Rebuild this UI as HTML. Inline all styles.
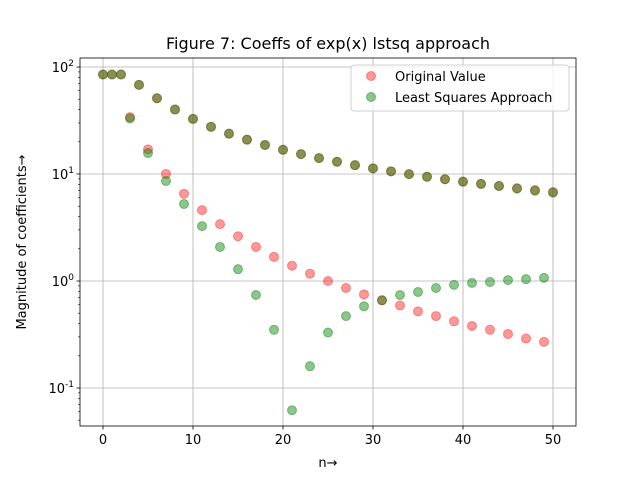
<!DOCTYPE html>
<html><head><meta charset="utf-8"><style>
body{margin:0;background:#fff;}
svg{display:block;font-family:"DejaVu Sans","Liberation Sans",sans-serif;}
</style></head><body>
<svg id="chart" width="640" height="480">
<rect width="640" height="480" fill="#fff"/>
<text x="328" y="49" font-size="16" text-anchor="middle">Figure 7: Coeffs of exp(x) lstsq approach</text>
<g id="grid"></g><g id="marks"></g><g id="axes"></g>
<text x="328" y="467" font-size="13" text-anchor="middle">n→</text>
<text transform="translate(26,242) rotate(-90)" font-size="13" text-anchor="middle">Magnitude of coefficients→</text>
<g>
<rect x="351" y="65" width="218" height="46" rx="3" fill="#fff" fill-opacity="0.8" stroke="#d0d0d0"/>
<circle cx="371" cy="76" r="4.5" fill="red" fill-opacity="0.4" stroke="red" stroke-opacity="0.4"/>
<text x="395" y="81" font-size="13">Original Value</text>
<circle cx="371" cy="97" r="4.5" fill="green" fill-opacity="0.45" stroke="green" stroke-opacity="0.45"/>
<text x="395" y="102" font-size="13">Least Squares Approach</text>
</g>
</svg>
<script>
const original=[85.07,85.07,85.07,34.03,68.05,17.01,51.03,10.01,40.03,6.54,32.71,4.60,27.59,3.40,23.81,2.62,20.94,2.08,18.69,1.68,16.84,1.39,15.34,1.17,14.08,1.00,13.01,0.86,12.09,0.75,11.29,0.66,10.59,0.59,9.97,0.52,9.42,0.47,8.93,0.42,8.48,0.38,8.08,0.35,7.72,0.32,7.38,0.29,7.08,0.27,6.79];
const lstsq=[85.07,85.07,85.07,33.0,68.05,15.7,51.03,8.6,40.03,5.25,32.71,3.26,27.59,2.08,23.81,1.29,20.94,0.74,18.69,0.35,16.84,0.062,15.34,0.16,14.08,0.33,13.01,0.47,12.09,0.58,11.29,0.66,10.59,0.74,9.97,0.79,9.42,0.86,8.93,0.92,8.48,0.96,8.08,0.98,7.72,1.02,7.28,1.04,6.98,1.07,6.69];
const xTicks=[0,10,20,30,40,50];
const yTickExps=[-1,0,1,2];
const L=80,R=576,T=58,B=426;
const xs=v=>103+(v)*9;
const ys=v=>281-Math.log10(v)*107;
const NS="http://www.w3.org/2000/svg";
function mk(tag,attrs,parent){const e=document.createElementNS(NS,tag);for(const k in attrs)e.setAttribute(k,attrs[k]);parent.appendChild(e);return e;}
const grid=document.getElementById('grid'),marks=document.getElementById('marks'),axes=document.getElementById('axes');
xTicks.forEach(t=>{const x=xs(t);
 const g=mk('line',{x1:x,x2:x,y1:T,y2:B,stroke:'#b0b0b0','stroke-width':0.8},grid);
 
 
 mk('line',{x1:x,x2:x,y1:B,y2:B+3.5,stroke:'#000','stroke-width':0.8},axes);
 const tx=mk('text',{x:x,y:B+18,'font-size':13,'text-anchor':'middle'},axes);tx.textContent=t;
 
 
});
yTickExps.forEach(e=>{const y=ys(Math.pow(10,e));
 const g=mk('line',{x1:L,x2:R,y1:y,y2:y,stroke:'#b0b0b0','stroke-width':0.8},grid);
 
 
 mk('line',{x1:L-3.5,x2:L,y1:y,y2:y,stroke:'#000','stroke-width':0.8},axes);
 const tx=mk('text',{x:L-6,y:y+5,'font-size':13,'text-anchor':'end'},axes);
 tx.innerHTML='10<tspan dy="-6" font-size="9">'+e+'</tspan>';
 
 
});
for(let e=-2;e<=2;e++)for(let m=2;m<=9;m++){const y=ys(m*Math.pow(10,e));if(y>T&&y<B)mk('line',{x1:L-2,x2:L,y1:y,y2:y,stroke:'#000','stroke-width':0.6},axes);}
const fr=mk('rect',{x:L,y:T,width:R-L,height:B-T,fill:'none',stroke:'#000','stroke-width':0.8},axes);


original.forEach((v,i)=>{const c=mk('circle',{cx:xs(i),cy:ys(v),r:4.5,fill:'red','fill-opacity':0.4,stroke:'red','stroke-opacity':0.4},marks);
 
 });
lstsq.forEach((v,i)=>{const c=mk('circle',{cx:xs(i),cy:ys(v),r:4.5,fill:'green','fill-opacity':0.45,stroke:'green','stroke-opacity':0.45},marks);
 
 });
</script>
</body></html>
